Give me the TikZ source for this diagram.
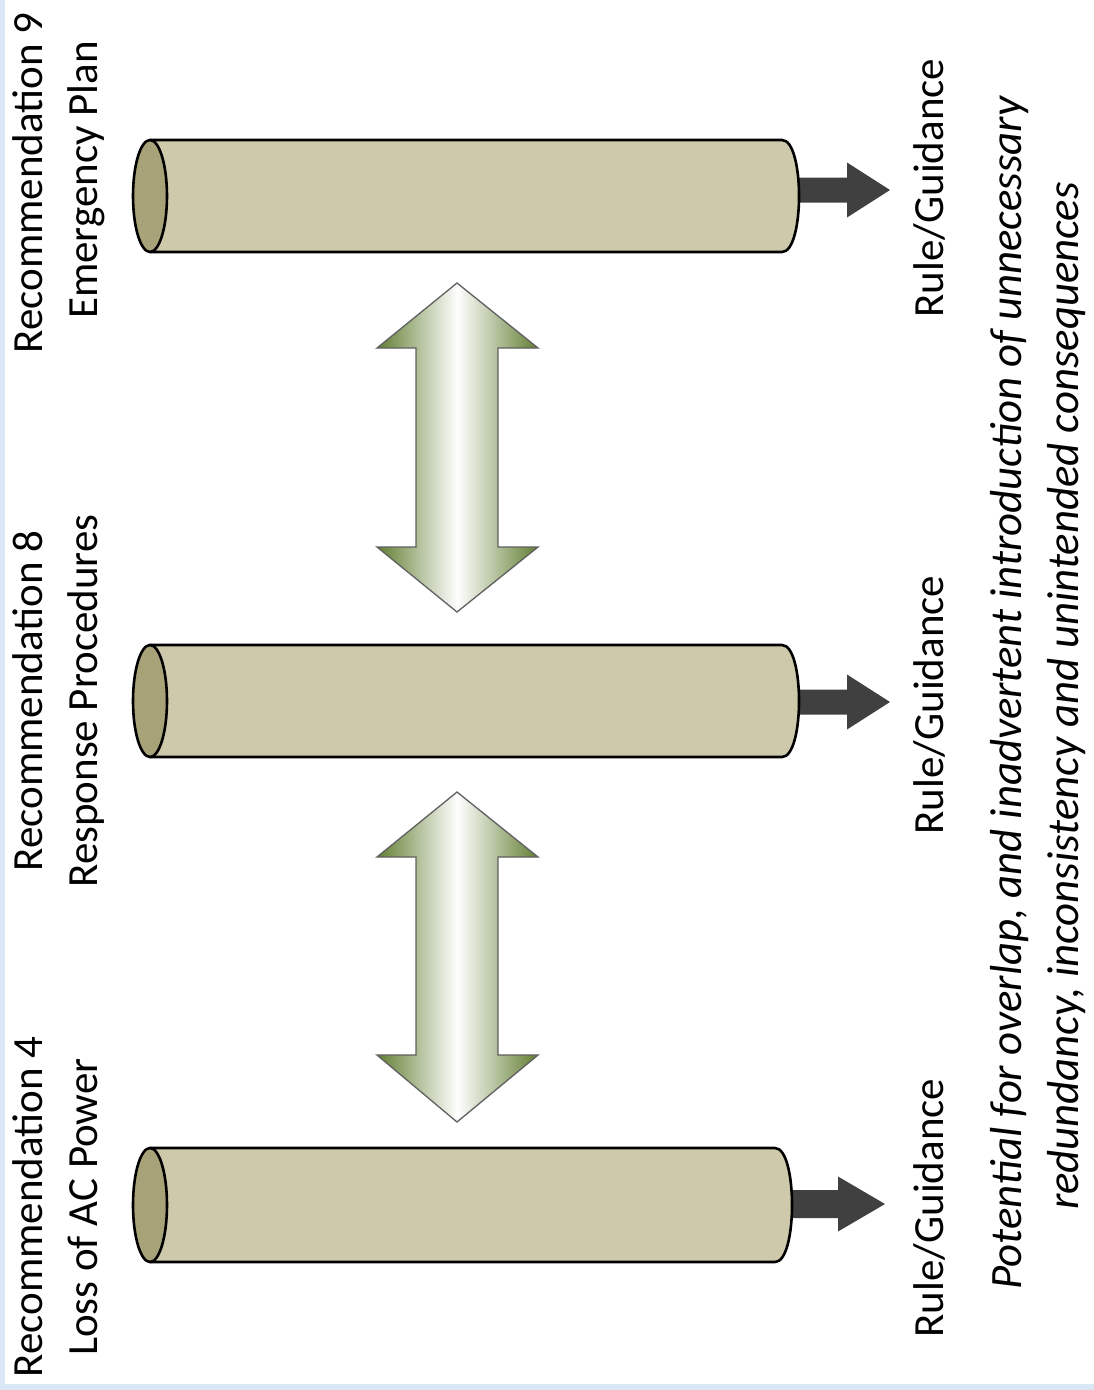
\documentclass[tikz,border=0pt]{standalone}
\usepackage{fontspec}
\setmainfont{Carlito}
\usetikzlibrary{calc}

\definecolor{cylbody}{RGB}{206,201,171}
\definecolor{cylface}{RGB}{168,162,120}
\definecolor{darkarrow}{RGB}{64,64,64}
\definecolor{olivegreen}{RGB}{98,126,50}
\definecolor{arrowedge}{RGB}{96,96,96}
\definecolor{paleblue}{RGB}{218,231,246}

\tikzset{
  cylbodystyle/.style={fill=cylbody, draw=black, line width=2.6pt, line join=round},
  cylfacestyle/.style={fill=cylface, draw=black, line width=2.6pt},
  outarrow/.style={fill=darkarrow, draw=none},
  twoway/.style={left color=olivegreen, right color=olivegreen, middle color=white,
                 draw=arrowedge, line width=1.3pt, line join=miter},
  headline/.style={rotate=90, anchor=base, inner sep=0pt, font=\fontsize{43}{52}\selectfont},
  noteline/.style={rotate=90, anchor=base, inner sep=0pt, font=\fontsize{44.8}{54}\selectfont\itshape},
}

\begin{document}
\begin{tikzpicture}[x=1pt, y=-1pt]
  \useasboundingbox (0,0) rectangle (1094,1390);
  \fill[white] (0,0) rectangle (1094,1390);
  % pale frame along the left and lower edges
  \fill[paleblue] (0,0) rectangle (5,1390);
  \fill[paleblue] (0,1384) rectangle (1094,1390);

  % centres of the three cylinders
  \coordinate (cyl1) at (150,1205);
  \coordinate (cyl2) at (150,701);
  \coordinate (cyl3) at (150,196);

  % dark output arrows (drawn first, they start under the cylinder ends)
  \foreach \cy/\xs/\xb/\xt/\sh in {1204/770/838/885/14, 702/780/847/890/12.5, 190/780/847/890/12.5} {
    \path[outarrow] (\xs,{\cy-\sh}) -- (\xb,{\cy-\sh}) -- (\xb,{\cy-27.5}) -- (\xt,\cy)
      -- (\xb,{\cy+27.5}) -- (\xb,{\cy+\sh}) -- (\xs,{\cy+\sh}) -- cycle;
  }

  % cylinders lying on their side, open face to the left
  \foreach \cy/\h/\xr in {1205/57/775, 701/56/782, 196/56/782} {
    \path[cylbodystyle] (150,{\cy-\h}) -- (\xr,{\cy-\h})
      .. controls ({\xr+22.7},{\cy-\h}) and ({\xr+22.7},{\cy+\h}) .. (\xr,{\cy+\h})
      -- (150,{\cy+\h}) -- cycle;
    \path[cylfacestyle] (150,\cy) ellipse [x radius=17pt, y radius=\h pt];
  }

  % two-headed arrows between neighbouring cylinders
  \foreach \ta/\ba/\bb/\tb in {792/857/1055/1122, 283/348/547/612} {
    \path[twoway] (457,\ta) -- (538,\ba) -- (498,\ba) -- (498,\bb) -- (538,\bb)
      -- (457,\tb) -- (377,\bb) -- (416,\bb) -- (416,\ba) -- (377,\ba) -- cycle;
  }

  % headings
  \node[headline] (rec4) at (42,1207) {Recommendation 4};
  \node[headline] (top4) at (97,1207) {Loss of AC Power};
  \node[headline] (rec8) at (42,701) {Recommendation 8};
  \node[headline] (top8) at (97,701) {Response Procedures};
  \node[headline] (rec9) at (42,183) {Recommendation 9};
  \node[headline] (top9) at (97,180) {Emergency Plan};

  % outputs
  \node[headline] (out4) at (943,1208) {Rule/Guidance};
  \node[headline] (out8) at (943,705) {Rule/Guidance};
  \node[headline] (out9) at (943,188) {Rule/Guidance};

  % closing note
  \node[noteline] (note1) at (1021,693) {Potential for overlap, and inadvertent introduction of unnecessary};
  \node[noteline] (note2) at (1078,696) {redundancy, inconsistency and unintended consequences};
\end{tikzpicture}
\end{document}
